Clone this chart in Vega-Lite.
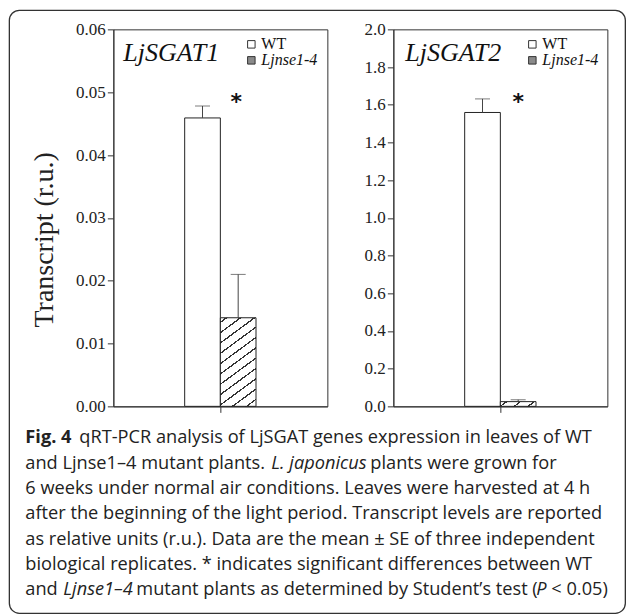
{
  "$schema": "https://vega.github.io/schema/vega-lite/v6.json",
  "padding": {"left": 8.35, "top": 9.35, "right": 0, "bottom": 0},
  "background": "white",
  "config": {"view": {"stroke": null}, "font": "Liberation Serif"},
  "columns": 2,
  "align": "none",
  "bounds": "flush",
  "spacing": {"row": 9, "column": 66},
  "resolve": {"scale": {"fill": "independent", "xOffset": "independent"}, "legend": {"fill": "independent"}},
  "concat": [
    {
      "width": 214, "height": 377,
      "view": {"stroke": "#333", "strokeWidth": 1},
      "title": {"text": "LjSGAT1", "anchor": "start", "orient": "top", "frame": "group", "offset": -67, "dx": 10, "baseline": "alphabetic", "font": "Liberation Serif", "fontSize": 26, "fontStyle": "italic", "fontWeight": "normal", "color": "#111"},
      "data": {"values": [
        {"group": "g", "genotype": "WT", "mean": 0.0459, "upper": 0.0478},
        {"group": "g", "genotype": "Ljnse1-4", "mean": 0.0141, "upper": 0.021}
      ]},
      "encoding": {
        "x": {"field": "group", "type": "nominal", "scale": {"paddingInner": 0, "paddingOuter": 1.172},
              "axis": {"labels": false, "title": null, "ticks": true, "tickSize": 6, "tickColor": "#333", "domainColor": "#333"}},
        "xOffset": {"field": "genotype", "type": "nominal", "scale": {"domain": ["WT", "Ljnse1-4"], "paddingInner": 0, "paddingOuter": 0}},
        "y": {"field": "mean", "type": "quantitative", "scale": {"domain": [0, 0.06]},
              "axis": {"title": "Transcript (r.u.)", "values": [0, 0.01, 0.02, 0.03, 0.04, 0.05, 0.06], "format": ".2f", "grid": false, "tickSize": 6, "labelPadding": 2, "labelFont": "Liberation Serif", "labelFontSize": 17, "labelColor": "#222", "titleFont": "Liberation Serif", "titleFontSize": 28, "titleFontWeight": "normal", "titleColor": "#222", "titlePadding": 17, "titleY": 210, "domainColor": "#333", "tickColor": "#333"}}
      },
      "layer": [
        {
          "transform": [{"filter": "datum.genotype === 'WT'"}],
          "mark": {"type": "bar", "stroke": "#222", "strokeWidth": 1, "fill": "white"}
        },
        {
          "transform": [{"filter": "datum.genotype !== 'WT'"}],
          "mark": {"type": "bar", "stroke": "#222", "strokeWidth": 1, "fill": {"gradient": "linear", "x1": 0, "y1": 0, "x2": 0.353, "y2": 1.19, "stops": [
                       {"offset": 0, "color": "white"},
                       {"offset": 0.033, "color": "white"}, {"offset": 0.033, "color": "#333"}, {"offset": 0.047, "color": "#333"}, {"offset": 0.047, "color": "white"},
                       {"offset": 0.123, "color": "white"}, {"offset": 0.123, "color": "#333"}, {"offset": 0.137, "color": "#333"}, {"offset": 0.137, "color": "white"},
                       {"offset": 0.213, "color": "white"}, {"offset": 0.213, "color": "#333"}, {"offset": 0.227, "color": "#333"}, {"offset": 0.227, "color": "white"},
                       {"offset": 0.303, "color": "white"}, {"offset": 0.303, "color": "#333"}, {"offset": 0.317, "color": "#333"}, {"offset": 0.317, "color": "white"},
                       {"offset": 0.393, "color": "white"}, {"offset": 0.393, "color": "#333"}, {"offset": 0.407, "color": "#333"}, {"offset": 0.407, "color": "white"},
                       {"offset": 0.483, "color": "white"}, {"offset": 0.483, "color": "#333"}, {"offset": 0.497, "color": "#333"}, {"offset": 0.497, "color": "white"},
                       {"offset": 0.573, "color": "white"}, {"offset": 0.573, "color": "#333"}, {"offset": 0.587, "color": "#333"}, {"offset": 0.587, "color": "white"},
                       {"offset": 0.663, "color": "white"}, {"offset": 0.663, "color": "#333"}, {"offset": 0.677, "color": "#333"}, {"offset": 0.677, "color": "white"},
                       {"offset": 0.753, "color": "white"}, {"offset": 0.753, "color": "#333"}, {"offset": 0.767, "color": "#333"}, {"offset": 0.767, "color": "white"},
                       {"offset": 0.843, "color": "white"}, {"offset": 0.843, "color": "#333"}, {"offset": 0.857, "color": "#333"}, {"offset": 0.857, "color": "white"},
                       {"offset": 0.933, "color": "white"}, {"offset": 0.933, "color": "#333"}, {"offset": 0.947, "color": "#333"}, {"offset": 0.947, "color": "white"},
                       {"offset": 1, "color": "white"}
                     ]}}
        },
        {
          "transform": [{"filter": "false"}],
          "mark": {"type": "square"},
          "encoding": {
            "fill": {"field": "genotype", "type": "nominal",
                     "scale": {"domain": ["WT", "Ljnse1-4"], "range": ["white", "#8a8a8a"]},
                     "legend": {"title": null, "orient": "none", "legendX": 130, "legendY": 7, "padding": 0, "symbolType": "square", "symbolSize": 56, "symbolStrokeColor": "#333", "symbolStrokeWidth": 1, "symbolOpacity": 1, "labelFont": "Liberation Serif", "labelFontSize": 16, "labelColor": "#111", "labelOffset": 2, "rowPadding": 0,
                                "labelFontStyle": {"expr": "datum.value === 'WT' ? 'normal' : 'italic'"}}}
          }
        },
        {
          "mark": {"type": "rule", "stroke": "#444", "strokeWidth": 1},
          "encoding": {"y2": {"field": "upper"}}
        },
        {
          "mark": {"type": "tick", "color": "#444", "thickness": 1, "size": 15},
          "encoding": {"y": {"field": "upper", "type": "quantitative"}}
        },
        {
          "data": {"values": [{"group": "g", "genotype": "Ljnse1-4", "star": 0.0473, "label": "*"}]},
          "mark": {"type": "text", "font": "DejaVu Sans", "fontWeight": "bold", "fontSize": 22, "baseline": "alphabetic", "align": "center", "dx": -2, "color": "#111"},
          "encoding": {"y": {"field": "star", "type": "quantitative"}, "text": {"field": "label"}}
        }
      ]
    },
    {
      "width": 214, "height": 377,
      "view": {"stroke": "#333", "strokeWidth": 1},
      "title": {"text": "LjSGAT2", "anchor": "start", "orient": "top", "frame": "group", "offset": -67, "dx": 12, "baseline": "alphabetic", "font": "Liberation Serif", "fontSize": 26, "fontStyle": "italic", "fontWeight": "normal", "color": "#111"},
      "data": {"values": [
        {"group": "g", "genotype": "WT", "mean": 1.559, "upper": 1.631},
        {"group": "g", "genotype": "Ljnse1-4", "mean": 0.025, "upper": 0.035}
      ]},
      "encoding": {
        "x": {"field": "group", "type": "nominal", "scale": {"paddingInner": 0, "paddingOuter": 1.172},
              "axis": {"labels": false, "title": null, "ticks": true, "tickSize": 6, "tickColor": "#333", "domainColor": "#333"}},
        "xOffset": {"field": "genotype", "type": "nominal", "scale": {"domain": ["WT", "Ljnse1-4"], "paddingInner": 0, "paddingOuter": 0}},
        "y": {"field": "mean", "type": "quantitative", "scale": {"domain": [0, 2]},
              "axis": {"title": null, "values": [0, 0.2, 0.4, 0.6, 0.8, 1.0, 1.2, 1.4, 1.6, 1.8, 2.0], "format": ".1f", "grid": false, "tickSize": 6, "labelPadding": 2, "labelFont": "Liberation Serif", "labelFontSize": 17, "labelColor": "#222", "domainColor": "#333", "tickColor": "#333"}}
      },
      "layer": [
        {
          "transform": [{"filter": "datum.genotype === 'WT'"}],
          "mark": {"type": "bar", "stroke": "#222", "strokeWidth": 1, "fill": "white"}
        },
        {
          "transform": [{"filter": "datum.genotype !== 'WT'"}],
          "mark": {"type": "bar", "stroke": "#222", "strokeWidth": 1, "fill": {"gradient": "linear", "x1": 0, "y1": 0, "x2": 1.145, "y2": 0.211, "stops": [
                       {"offset": 0, "color": "white"},
                       {"offset": 0.125, "color": "white"}, {"offset": 0.125, "color": "#333"}, {"offset": 0.175, "color": "#333"}, {"offset": 0.175, "color": "white"},
                       {"offset": 0.455, "color": "white"}, {"offset": 0.455, "color": "#333"}, {"offset": 0.505, "color": "#333"}, {"offset": 0.505, "color": "white"},
                       {"offset": 0.785, "color": "white"}, {"offset": 0.785, "color": "#333"}, {"offset": 0.835, "color": "#333"}, {"offset": 0.835, "color": "white"},
                       {"offset": 1, "color": "white"}
                     ]}}
        },
        {
          "transform": [{"filter": "false"}],
          "mark": {"type": "square"},
          "encoding": {
            "fill": {"field": "genotype", "type": "nominal",
                     "scale": {"domain": ["WT", "Ljnse1-4"], "range": ["white", "#8a8a8a"]},
                     "legend": {"title": null, "orient": "none", "legendX": 131, "legendY": 7, "padding": 0, "symbolType": "square", "symbolSize": 56, "symbolStrokeColor": "#333", "symbolStrokeWidth": 1, "symbolOpacity": 1, "labelFont": "Liberation Serif", "labelFontSize": 16, "labelColor": "#111", "labelOffset": 2, "rowPadding": 0,
                                "labelFontStyle": {"expr": "datum.value === 'WT' ? 'normal' : 'italic'"}}}
          }
        },
        {
          "mark": {"type": "rule", "stroke": "#444", "strokeWidth": 1},
          "encoding": {"y2": {"field": "upper"}}
        },
        {
          "mark": {"type": "tick", "color": "#444", "thickness": 1, "size": 15},
          "encoding": {"y": {"field": "upper", "type": "quantitative"}}
        },
        {
          "data": {"values": [{"group": "g", "genotype": "Ljnse1-4", "star": 1.577, "label": "*"}]},
          "mark": {"type": "text", "font": "DejaVu Sans", "fontWeight": "bold", "fontSize": 22, "baseline": "alphabetic", "align": "center", "dx": 0, "color": "#111"},
          "encoding": {"y": {"field": "star", "type": "quantitative"}, "text": {"field": "label"}}
        }
      ]
    },
    {
      "width": 214, "height": 198,
      "layer": [
        {
          "data": {"values": [{"frame": "figure border"}]},
          "mark": {"type": "rect", "fill": null, "stroke": "#333", "strokeWidth": 1.3, "cornerRadius": 10},
          "encoding": {"x": {"value": -104}, "x2": {"value": 512}, "y": {"value": -405}, "y2": {"value": 198}}
        },
        {
          "data": {"values": [
            {"line": 1, "seg": "b", "text": "Fig. 4"},
            {"line": 1, "seg": "p1", "text": "qRT-PCR analysis of LjSGAT genes expression in leaves of WT"},
            {"line": 2, "seg": "p0", "text": "and Ljnse1–4 mutant plants."},
            {"line": 2, "seg": "i1", "text": "L. japonicus"},
            {"line": 2, "seg": "p2", "text": "plants were grown for"},
            {"line": 3, "seg": "p0", "text": "6 weeks under normal air conditions. Leaves were harvested at 4 h"},
            {"line": 4, "seg": "p0", "text": "after the beginning of the light period. Transcript levels are reported"},
            {"line": 5, "seg": "p0", "text": "as relative units (r.u.). Data are the mean ± SE of three independent"},
            {"line": 6, "seg": "p0", "text": "biological replicates. * indicates significant differences between WT"},
            {"line": 7, "seg": "p0", "text": "and"},
            {"line": 7, "seg": "i2", "text": "Ljnse1–4"},
            {"line": 7, "seg": "p3", "text": "mutant plants as determined by Student’s test ("},
            {"line": 7, "seg": "i3", "text": "P"},
            {"line": 7, "seg": "p4", "text": "< 0.05)"}
          ]},
          "encoding": {
            "y": {"field": "line", "type": "ordinal", "scale": {"type": "point", "domain": [1, 2, 3, 4, 5, 6, 7], "range": [23, 175], "padding": 0}, "axis": null},
            "x": {"value": -88},
            "text": {"field": "text"}
          },
          "layer": [
            {"transform": [{"filter": "datum.seg === 'b'"}], "mark": {"type": "text", "font": "Open Sans", "fontSize": 18.2, "fontWeight": "bold", "align": "left", "baseline": "middle", "color": "#222"}},
            {"transform": [{"filter": "datum.seg === 'p0'"}], "mark": {"type": "text", "font": "Open Sans", "fontSize": 18.2, "align": "left", "baseline": "middle", "color": "#222"}},
            {"transform": [{"filter": "datum.seg === 'p1'"}], "mark": {"type": "text", "font": "Open Sans", "fontSize": 18.2, "align": "left", "baseline": "middle", "color": "#222", "dx": 54}},
            {"transform": [{"filter": "datum.seg === 'i1'"}], "mark": {"type": "text", "font": "Open Sans", "fontSize": 18.2, "fontStyle": "italic", "align": "left", "baseline": "middle", "color": "#222", "dx": 246}},
            {"transform": [{"filter": "datum.seg === 'p2'"}], "mark": {"type": "text", "font": "Open Sans", "fontSize": 18.2, "align": "left", "baseline": "middle", "color": "#222", "dx": 345}},
            {"transform": [{"filter": "datum.seg === 'i2'"}], "mark": {"type": "text", "font": "Open Sans", "fontSize": 18.2, "fontStyle": "italic", "align": "left", "baseline": "middle", "color": "#222", "dx": 38}},
            {"transform": [{"filter": "datum.seg === 'p3'"}], "mark": {"type": "text", "font": "Open Sans", "fontSize": 18.2, "align": "left", "baseline": "middle", "color": "#222", "dx": 111}},
            {"transform": [{"filter": "datum.seg === 'i3'"}], "mark": {"type": "text", "font": "Open Sans", "fontSize": 18.2, "fontStyle": "italic", "align": "left", "baseline": "middle", "color": "#222", "dx": 511}},
            {"transform": [{"filter": "datum.seg === 'p4'"}], "mark": {"type": "text", "font": "Open Sans", "fontSize": 18.2, "align": "left", "baseline": "middle", "color": "#222", "dx": 526}}
          ]
        }
      ]
    }
  ]
}
